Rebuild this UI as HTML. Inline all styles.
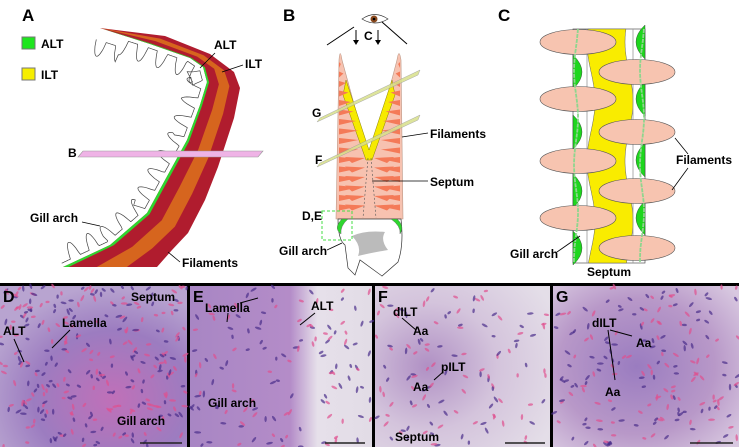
<!DOCTYPE html>
<html><head><meta charset="utf-8"><style>
html,body{margin:0;padding:0;background:#fff}
#w{position:relative;width:739px;height:447px;overflow:hidden;font-family:"Liberation Sans",sans-serif}
svg text{font-family:"Liberation Sans",sans-serif;font-weight:bold}
</style></head><body><div id="w">
<svg id="s" width="739" height="447" viewBox="0 0 739 447" xmlns="http://www.w3.org/2000/svg">
<defs>
<radialGradient id="gd" cx="0.6" cy="0.7" r="0.7"><stop offset="0" stop-color="#c070b8"/><stop offset="0.6" stop-color="#9c7cc0"/><stop offset="1" stop-color="#b8a4d0"/></radialGradient>
<linearGradient id="ge" x1="0" x2="1" y1="0" y2="0"><stop offset="0" stop-color="#a886c4"/><stop offset="0.55" stop-color="#b48cc8"/><stop offset="0.7" stop-color="#e6e0ea"/><stop offset="1" stop-color="#e2dce6"/></linearGradient>
<radialGradient id="gf" cx="0.3" cy="0.5" r="0.8"><stop offset="0" stop-color="#b090c4"/><stop offset="0.5" stop-color="#d4c4dc"/><stop offset="1" stop-color="#e4dee8"/></radialGradient>
<radialGradient id="gg" cx="0.45" cy="0.5" r="0.7"><stop offset="0" stop-color="#9a7cc0"/><stop offset="0.6" stop-color="#b898c8"/><stop offset="1" stop-color="#d8c8e0"/></radialGradient>
</defs>
<g id="A"></g>
<g id="B"></g>
<g id="C"></g>
<rect x="0" y="283" width="739" height="164" fill="#000"/>
<rect x="0" y="286" width="187" height="161" fill="url(#gd)"/>
<rect x="190" y="286" width="182" height="161" fill="url(#ge)"/>
<rect x="375" y="286" width="175" height="161" fill="url(#gf)"/>
<rect x="553" y="286" width="186" height="161" fill="url(#gg)"/>
<g id="tex"></g>
<g fill="#000" font-size="13">
<text x="3" y="302" font-size="16">D</text>
<text x="193" y="302" font-size="16">E</text>
<text x="378" y="302" font-size="16">F</text>
<text x="556" y="302" font-size="16">G</text>
<text x="131" y="301" font-size="12">Septum</text>
<text x="3" y="335" font-size="12">ALT</text>
<text x="62" y="327" font-size="12">Lamella</text>
<text x="117" y="425" font-size="12">Gill arch</text>
<text x="205" y="312" font-size="12">Lamella</text>
<text x="311" y="310" font-size="12">ALT</text>
<text x="208" y="407" font-size="12">Gill arch</text>
<text x="393" y="316" font-size="12">dILT</text>
<text x="413" y="335" font-size="12">Aa</text>
<text x="441" y="371" font-size="12">pILT</text>
<text x="413" y="391" font-size="12">Aa</text>
<text x="395" y="441" font-size="12">Septum</text>
<text x="592" y="327" font-size="12">dILT</text>
<text x="636" y="347" font-size="12">Aa</text>
<text x="605" y="396" font-size="12">Aa</text>
</g>
<g stroke="#000" stroke-width="1" fill="none">
<line x1="14" y1="339" x2="24" y2="362"/><line x1="70" y1="330" x2="52" y2="348"/>
<line x1="228" y1="313" x2="227" y2="322"/><line x1="240" y1="303" x2="258" y2="298"/><line x1="315" y1="313" x2="300" y2="325"/>
<line x1="402" y1="318" x2="416" y2="330"/><line x1="443" y1="372" x2="434" y2="380"/>
<line x1="608" y1="330" x2="615" y2="380"/><line x1="610" y1="330" x2="632" y2="336"/>
</g>
<g stroke="#222" stroke-width="1.5">
<line x1="140" y1="443" x2="182" y2="443"/><line x1="325" y1="443" x2="365" y2="443"/><line x1="505" y1="443" x2="545" y2="443"/><line x1="690" y1="443" x2="733" y2="443"/>
</g>
</svg>
<script>
var NS="http://www.w3.org/2000/svg";
function el(p,t,a){var e=document.createElementNS(NS,t);for(var k in a)e.setAttribute(k,a[k]);p.appendChild(e);return e;}
function txt(p,x,y,s,fs){var e=el(p,'text',{x:x,y:y,'font-size':fs||12,fill:'#000'});e.textContent=s;return e;}
function pj(a){return a.map(function(p){return p[0].toFixed(1)+','+p[1].toFixed(1)}).join(' ');}
var A=document.getElementById('A'),B=document.getElementById('B'),C=document.getElementById('C');
var inn=[[100,28],[150,44],[190,58],[203,67],[207,82],[200,105],[187,140],[165,180],[147,213],[110,245],[63,267]];
var out=[[100,28],[165,36],[210,54],[234,72],[240,88],[234,118],[218,167],[205,200],[188,233],[172,250],[157,267]];
function mix(f){return inn.map(function(p,i){return [p[0]+(out[i][0]-p[0])*f,p[1]+(out[i][1]-p[1])*f];});}
function band(f1,f2,col){var a=mix(f1),b=mix(f2).reverse();el(A,'polygon',{points:pj(a.concat(b)),fill:col});}
// gill arch outline: offset curve with smooth bumps
var cum=[0];for(var i=1;i<inn.length;i++)cum.push(cum[i-1]+Math.hypot(inn[i][0]-inn[i-1][0],inn[i][1]-inn[i-1][1]));
var TL=cum[cum.length-1];var pts=[];
for(var s=0;s<=TL;s+=0.8){var i0=0;while(i0<inn.length-2&&cum[i0+1]<s)i0++;var fr=(s-cum[i0])/(cum[i0+1]-cum[i0]);
var r=inn[i0],q=inn[i0+1];var dx=q[0]-r[0],dy=q[1]-r[1],L=Math.hypot(dx,dy);var nx=-dy/L,ny=dx/L;
var p=[r[0]+dx*fr,r[1]+dy*fr];var ph=(s/TL)*18;var b=Math.pow(Math.max(0,Math.sin(ph*Math.PI*2)),0.6);
var off=4+b*16+(s<25?8:0);pts.push([p[0]+nx*off*(-1)*-1,p[1]+ny*off*(-1)*-1]);}
// choose side: left of curve (away from band)
var test=pts[Math.floor(pts.length/2)];
if(test[0]>inn[6][0]){pts=[];for(var s=0;s<=TL;s+=0.8){var i0=0;while(i0<inn.length-2&&cum[i0+1]<s)i0++;var fr=(s-cum[i0])/(cum[i0+1]-cum[i0]);var r=inn[i0],q=inn[i0+1];var dx=q[0]-r[0],dy=q[1]-r[1],L=Math.hypot(dx,dy);var nx=dy/L,ny=-dx/L;var p=[r[0]+dx*fr,r[1]+dy*fr];var ph=(s/TL)*18;var b=Math.pow(Math.max(0,Math.sin(ph*Math.PI*2)),0.6);var off=4+b*16;pts.push([p[0]+nx*off,p[1]+ny*off]);}}
el(A,'polyline',{points:pj(pts),fill:'none',stroke:'#444','stroke-width':0.7});
band(0,1,'#b01c2e');
band(0.36,0.68,'#d6651e');
band(0,0.06,'#2fd62f');
el(A,'polygon',{points:'78,157 83,151 263,151 258,157',fill:'#efb3e6',stroke:'#999','stroke-width':0.6});
txt(A,22,21,'A',17);
el(A,'rect',{x:22,y:37,width:13,height:12,fill:'#1ee61e',stroke:'#777'});
el(A,'rect',{x:22,y:68,width:13,height:12,fill:'#f6ee00',stroke:'#777'});
txt(A,41,48,'ALT',12);txt(A,41,79,'ILT',12);
txt(A,214,49,'ALT',12);txt(A,245,68,'ILT',12);txt(A,68,157,'B',12);
txt(A,30,222,'Gill arch',12);txt(A,182,267,'Filaments',12);
[[215,53,200,68],[243,65,222,72],[82,222,100,226],[180,262,168,252]].forEach(function(l){el(A,'line',{x1:l[0],y1:l[1],x2:l[2],y2:l[3],stroke:'#000','stroke-width':0.8});});
// Panel B
txt(B,283,21,'B',17);
el(B,'path',{d:'M336,219 L339,60 Q340,47 342,60 L368,155 Q370,158 372,155 L397,60 Q399,47 401,60 L403,219 Z',fill:'#f7c2b0',stroke:'#bb9988','stroke-width':0.6});
el(B,'path',{d:'M346,80 L369,150 L392,80 L395,95 L372,160 L366,160 L343,95 Z',fill:'#f6ea00',stroke:'#8a8000','stroke-width':0.5});
for(var y=62;y<212;y+=9.5){var w=Math.min(12,(y-55)/6);
el(B,'polygon',{points:(339)+','+y+' '+(339+w*1.6)+','+(y+2)+' '+(339)+','+(y+6),fill:'#f47a58'});
el(B,'polygon',{points:(400)+','+y+' '+(400-w*1.6)+','+(y+2)+' '+(400)+','+(y+6),fill:'#f47a58'});
if(y>150){el(B,'polygon',{points:'345,'+y+' 365,'+(y+1)+' 352,'+(y+6),fill:'#f47a58'});el(B,'polygon',{points:'394,'+y+' 374,'+(y+1)+' 387,'+(y+6),fill:'#f47a58'});}}
el(B,'line',{x1:368,y1:158,x2:363,y2:218,stroke:'#555','stroke-width':0.6,'stroke-dasharray':'2,2'});
el(B,'line',{x1:371,y1:158,x2:376,y2:218,stroke:'#555','stroke-width':0.6,'stroke-dasharray':'2,2'});
el(B,'polygon',{points:'317,122 320,118 420,70 418,75',fill:'#d8e08a',stroke:'#999','stroke-width':0.5,opacity:0.85});
el(B,'polygon',{points:'317,167 320,163 420,115 418,120',fill:'#d8e08a',stroke:'#999','stroke-width':0.5,opacity:0.85});
el(B,'path',{d:'M338,219 L401,219 Q404,245 398,262 L382,276 L360,260 L355,275 L348,268 L345,245 Q338,240 338,219 Z',fill:'#fff',stroke:'#333','stroke-width':0.7});
el(B,'path',{d:'M352,236 Q365,230 385,232 Q380,240 388,250 Q370,253 358,256 Q362,246 352,236 Z',fill:'#bbb'});
el(B,'path',{d:'M342,219 Q333,228 341,234 Q340,226 348,219 Z',fill:'#2ed62e',stroke:'#555','stroke-width':0.4});
el(B,'path',{d:'M397,219 Q405,226 400,234 Q401,226 391,219 Z',fill:'#2ed62e',stroke:'#555','stroke-width':0.4});
el(B,'rect',{x:322,y:211,width:30,height:29,fill:'none',stroke:'#44dd44','stroke-width':1,'stroke-dasharray':'3,2'});
el(B,'path',{d:'M362,19 Q375,10 388,19 Q375,27 362,19 Z',fill:'#fff',stroke:'#333','stroke-width':0.7});
el(B,'circle',{cx:374,cy:19,r:3.5,fill:'#8a4a1e'});el(B,'circle',{cx:374,cy:19,r:1.3,fill:'#000'});
el(B,'line',{x1:327,y1:45,x2:354,y2:27,stroke:'#000','stroke-width':1});
el(B,'line',{x1:382,y1:22,x2:407,y2:44,stroke:'#000','stroke-width':1});
[[356,30],[378,30]].forEach(function(a){el(B,'line',{x1:a[0],y1:a[1],x2:a[0],y2:a[1]+12,stroke:'#000','stroke-width':1});el(B,'polygon',{points:(a[0]-3)+','+(a[1]+10)+' '+(a[0]+3)+','+(a[1]+10)+' '+a[0]+','+(a[1]+15),fill:'#000'});});
txt(B,364,40,'C',12);txt(B,312,117,'G',12);txt(B,315,164,'F',12);
txt(B,430,138,'Filaments',12);txt(B,430,186,'Septum',12);txt(B,302,220,'D,E',12);txt(B,279,255,'Gill arch',12);
[[402,137,428,133],[372,181,428,181],[327,250,342,243]].forEach(function(l){el(B,'line',{x1:l[0],y1:l[1],x2:l[2],y2:l[3],stroke:'#000','stroke-width':0.8});});
// Panel C
txt(C,498,21,'C',17);
el(C,'rect',{x:573,y:29,width:72,height:234,fill:'#fff',stroke:'#555','stroke-width':0.7});
var L1=[],R1=[];
for(var y=29;y<=263;y+=2){var s=Math.cos((y-42)/59.5*Math.PI);L1.push([591-s*4,y]);R1.push([629-s*4,y]);}
el(C,'polygon',{points:pj(L1.concat(R1.reverse())),fill:'#f9ec00',stroke:'#666','stroke-width':0.5});
el(C,'line',{x1:587,y1:29,x2:587,y2:263,stroke:'#999','stroke-width':0.8});
el(C,'line',{x1:633,y1:29,x2:633,y2:263,stroke:'#999','stroke-width':0.8});
[72,132,191,248].forEach(function(y){el(C,'path',{d:'M573,'+(y-17)+' Q591,'+y+' 573,'+(y+17)+' Z',fill:'#1ed61e',stroke:'#333','stroke-width':0.4});});
[42,99,160,218].forEach(function(y){el(C,'path',{d:'M645,'+(y-17)+' Q627,'+y+' 645,'+(y+17)+' Z',fill:'#1ed61e',stroke:'#333','stroke-width':0.4});});
[42,99,161,218].forEach(function(y){el(C,'ellipse',{cx:578,cy:y,rx:38,ry:12.5,fill:'#f7c4b0',stroke:'#555','stroke-width':0.6});});
[72,132,191,248].forEach(function(y){el(C,'ellipse',{cx:637,cy:y,rx:38,ry:12.5,fill:'#f7c4b0',stroke:'#555','stroke-width':0.6});});
var wl=[],wr=[];for(var y=29;y<=263;y+=2){wl.push([576+Math.sin(y/15)*2,y]);wr.push([642+Math.sin(y/15)*2,y]);}
el(C,'polyline',{points:pj(wl),fill:'none',stroke:'#8ed68e','stroke-width':1.8,'stroke-dasharray':'4,1'});
el(C,'polyline',{points:pj(wr),fill:'none',stroke:'#8ed68e','stroke-width':1.8,'stroke-dasharray':'4,1'});
txt(C,676,164,'Filaments',12);txt(C,510,258,'Gill arch',12);txt(C,587,276,'Septum',12);
[[675,138,688,154],[672,190,688,168],[557,252,580,236]].forEach(function(l){el(C,'line',{x1:l[0],y1:l[1],x2:l[2],y2:l[3],stroke:'#000','stroke-width':0.8});});
var T=document.getElementById('tex');var seed=7;function rnd(){seed=(seed*9301+49297)%233280;return seed/233280;}
var panels=[[0,187,1.1],[190,372,0.5],[375,550,0.45],[553,739,0.7]];
panels.forEach(function(P){for(var k=0;k<260*P[2];k++){var x=P[0]+rnd()*(P[1]-P[0]),y=286+rnd()*161;
el(T,'ellipse',{cx:x,cy:y,rx:2+rnd()*1.5,ry:1.2,fill:rnd()<0.5?'#4a2e8a':'#e0508e',opacity:0.7,transform:'rotate('+(rnd()*180)+' '+x+' '+y+')'});}});
</script>
</div></body></html>
